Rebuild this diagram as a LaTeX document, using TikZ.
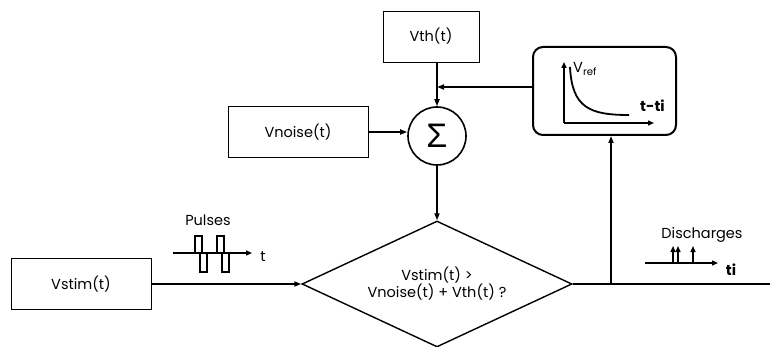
\documentclass[tikz,border=0pt]{standalone}
\usepackage{fontspec}
\setmainfont{Poppins}
\newfontfamily\greekfont{Liberation Sans}
\usetikzlibrary{shapes.geometric,arrows.meta}
\tikzset{
  block/.style={draw, line width=0.8pt, minimum width=96pt, minimum height=51pt, inner sep=0pt},
  flow/.style={line width=1.6pt, -{Triangle[length=7pt,width=5pt]}},
  icon/.style={line width=1.4pt, -{Triangle[length=6pt,width=5pt]}},
}
\begin{document}
\begin{tikzpicture}[x=1pt, y=-1pt, every node/.style={font=\fontsize{14.5}{17}\selectfont}]
\useasboundingbox (0,0) rectangle (770,347);
% blocks
\node[block] (vth) at (431,36.5) {Vth(t)};
\node[block, minimum width=140pt] (vnoise) at (298,132) {Vnoise(t)};
\node[block, minimum width=140pt] (vstim) at (81,284) {Vstim(t)};
\node[draw, circle, line width=1.6pt, minimum size=58pt, inner sep=0pt,
      font=\greekfont\fontsize{34}{34}\selectfont] (sum) at (437,136) {Σ};
\node[draw, diamond, line width=1.4pt, aspect=2.14, minimum width=270pt, minimum height=126pt,
      inner sep=0pt, align=center] (test) at (437,284) {Vstim(t) >\\Vnoise(t) + Vth(t) ?};
\node[draw, rounded corners=10pt, line width=2pt, minimum width=143pt, minimum height=88pt] (refr) at (604.5,91) {};
% refractory curve inside the rounded box
\coordinate (orig) at (564,123);
\draw[icon] (orig) -- (564,62);
\draw[icon] (orig) -- (654,123);
\draw[line width=1.8pt] (570,67) .. controls (572,108) and (590,115) .. (629,115);
\node[anchor=west, inner sep=0pt] (vref) at (573,69) {V\textsubscript{ref}};
\node[anchor=west, inner sep=0pt, font=\bfseries\fontsize{14.5}{17}\selectfont] (tti) at (640,106) {t-ti};
% connectors
\coordinate (fb) at ([yshift=4pt]refr.west);
\draw[flow] (sum.north |- vth.south) -- (sum.north);
\draw[flow] (fb) -- (fb -| sum.north);
\draw[flow] (vnoise.east) -- (vnoise.east -| sum.west);
\draw[flow] (sum.south) -- (test.north);
\draw[flow] (vstim.east) -- (test.west);
\coordinate (out) at (770,284);
\coordinate (tap) at (611,284);
\draw[line width=1.6pt] (test.east) -- (out);
\draw[flow] (tap) -- (tap |- refr.south);
% input pulses
\node (pulses) at (208,220) {Pulses};
\draw[icon] (173,253) -- (252,253);
\foreach \px in {195,217}
  \draw[line width=1.2pt] (\px,236) rectangle (\px+7,253) (\px+5,253) rectangle (\px+12,272);
\node (tlab) at (263,257) {t};
% output discharges
\node (disch) at (702,235) {Discharges};
\draw[icon] (645,263) -- (718,263);
\foreach \dx in {673,678,693}
  \draw[icon] (\dx,263) -- (\dx,246);
\node[font=\bfseries\fontsize{14.5}{17}\selectfont] (tilab) at (731,270) {ti};
\end{tikzpicture}
\end{document}
